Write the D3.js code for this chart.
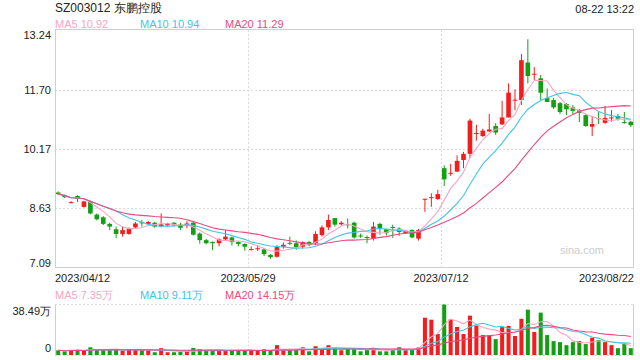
<!DOCTYPE html>
<html><head><meta charset="utf-8">
<script src="https://cdn.jsdelivr.net/npm/d3@7/dist/d3.min.js"></script>
<style>
html,body{margin:0;padding:0;background:#fff;}
svg{display:block;font-family:"Liberation Sans",Arial,sans-serif;}
</style></head>
<body>
<svg id="c" width="640" height="360"></svg>
<script>
const title = "SZ003012 东鹏控股";
const timeStamp = "08-22 13:22";
const xTickLabels = ["2023/04/12","2023/05/29","2023/07/12","2023/08/22"];
const priceTicks = [13.24, 11.70, 10.17, 8.63, 7.09];
const volTickLabels = ["38.49万","0"];
const volMax = 38.49;
const priceLegend = ["MA5 10.92","MA10 10.94","MA20 11.29"];
const volLegend = ["MA5 7.35万","MA10 9.11万","MA20 14.15万"];

const opens = [9.04,8.97,8.77,8.95,8.67,8.81,8.47,8.40,8.23,8.09,
7.97,7.97,8.14,8.27,8.23,8.26,8.17,8.19,8.26,8.21,
8.18,8.26,7.98,7.81,7.76,7.73,7.83,7.88,7.76,7.71,
7.56,7.58,7.57,7.43,7.38,7.64,7.74,7.73,7.64,7.76,
7.73,7.94,8.14,8.38,8.22,8.22,8.26,7.93,7.89,7.85,
8.23,8.09,8.15,8.11,7.99,8.07,7.85,8.87,8.90,8.87,
9.67,9.53,9.58,9.88,10.04,10.56,10.50,10.62,10.76,10.80,
10.98,11.42,11.43,12.40,12.09,11.99,11.48,11.43,11.35,11.33,
11.24,11.17,11.04,10.74,10.96,10.84,10.97,11.02,10.86,10.87];
const highs = [9.07,8.99,8.82,8.97,8.83,8.83,8.50,8.43,8.26,8.16,
8.16,8.14,8.28,8.33,8.30,8.28,8.50,8.26,8.28,8.26,
8.30,8.29,8.01,7.84,7.78,7.86,8.07,7.90,7.78,7.73,
7.65,7.68,7.60,7.45,7.68,7.75,7.90,7.80,7.78,7.79,
8.04,8.19,8.47,8.38,8.30,8.37,8.29,7.98,7.93,8.28,
8.26,8.11,8.21,8.14,8.07,8.09,8.10,8.88,9.02,9.11,
9.74,9.78,10.00,10.09,10.95,10.79,10.69,11.07,10.83,11.41,
11.86,11.71,12.62,13.00,12.28,12.08,11.73,11.48,11.38,11.35,
11.30,11.20,11.07,11.02,11.13,11.28,11.17,11.07,11.12,10.89];
const lows = [8.97,8.90,8.76,8.79,8.65,8.48,8.32,8.20,8.07,7.86,
7.90,7.95,8.12,8.16,8.21,8.13,8.14,8.17,8.17,8.07,
8.12,7.93,7.72,7.70,7.55,7.65,7.81,7.67,7.65,7.54,
7.54,7.53,7.40,7.33,7.36,7.59,7.68,7.56,7.59,7.65,
7.68,7.90,8.07,8.16,8.19,8.11,7.85,7.87,7.73,7.80,
7.95,7.93,7.87,7.92,7.97,7.86,7.80,8.54,8.67,8.85,
9.21,9.47,9.58,9.67,9.93,10.38,10.48,10.60,10.53,10.79,
10.98,11.17,11.30,11.86,11.95,11.43,11.38,11.20,11.07,11.04,
11.07,10.86,10.74,10.50,10.81,10.82,10.87,10.90,10.82,10.73];
const closes = [9.00,8.92,8.79,8.88,8.81,8.50,8.35,8.23,8.16,7.97,
8.07,8.11,8.24,8.26,8.28,8.16,8.22,8.24,8.19,8.13,
8.24,7.95,7.81,7.73,7.73,7.83,7.90,7.76,7.71,7.64,
7.58,7.60,7.45,7.37,7.63,7.69,7.73,7.63,7.76,7.68,
7.97,8.14,8.33,8.21,8.26,8.21,7.88,7.92,7.88,8.16,
8.11,7.99,8.14,8.02,8.05,7.88,8.07,8.88,8.92,9.00,
9.38,9.55,9.86,10.04,10.90,10.58,10.64,10.67,10.59,10.98,
11.62,11.44,12.46,12.05,12.11,11.62,11.38,11.24,11.12,11.19,
11.15,11.10,10.76,10.81,10.95,10.97,10.98,10.95,10.85,10.78];
const volumes = [3.6,2.8,3.9,3.9,3.1,5.9,4.1,4.1,4.1,4.4,
3.1,4.1,4.1,3.9,3.6,2.1,5.2,2.1,2.1,2.3,
2.8,5.4,4.4,3.1,3.6,4.1,3.4,3.6,3.4,3.1,
3.6,3.4,4.4,3.1,7.5,3.6,3.9,4.4,5.9,2.8,
6.7,5.4,7.5,5.4,3.6,4.9,4.4,2.8,4.1,5.4,
2.8,2.8,3.9,5.9,3.9,4.4,5.7,28.4,26.9,16.0,
38.49,27.1,21.4,16.0,30.0,22.5,15.2,15.0,12.1,21.2,
22.2,14.5,27.6,34.6,17.6,32.3,15.2,10.6,9.8,7.5,
9.8,10.6,8.3,13.2,11.4,9.8,7.5,5.2,8.8,5.2];

const RED = "#f41c1c", GREEN = "#12a012";
const MA_COLORS = ["#f7a5c3", "#3fc5e6", "#ec4a82"];
const MA_PERIODS = [5, 10, 20];

function movingAvg(arr, n) {
  return arr.map((_, i) => {
    const s = arr.slice(Math.max(0, i - n + 1), i + 1);
    return d3.mean(s);
  });
}

const svg = d3.select("#c");
const L = 55, R = 634, T = 30, B = 268, VT = 304.5, VB = 355;
const N = closes.length;
const x = d3.scaleBand().domain(d3.range(N)).range([L, R]).padding(0);
const cx = i => x(i) + x.bandwidth() / 2;
const bw = x.bandwidth() * 0.72;
const y = d3.scaleLinear().domain([7.09, 13.24]).range([B, T]);
const yv = d3.scaleLinear().domain([0, volMax]).range([VB, VT]);
const xg = d3.scaleLinear().domain([0, 3]).range([L, R]);

const gridC = "#dcdcdc", borderC = "#cfcfcf";

// main grid
svg.append("g").selectAll("line").data(priceTicks.slice(1, -1)).join("line")
  .attr("x1", L).attr("x2", R).attr("y1", d => Math.round(y(d)) + 0.5).attr("y2", d => Math.round(y(d)) + 0.5)
  .attr("stroke", gridC).attr("stroke-dasharray", "2,2");
[1, 2].forEach(k => {
  svg.append("line").attr("x1", Math.round(xg(k)) + 0.5).attr("x2", Math.round(xg(k)) + 0.5)
    .attr("y1", T).attr("y2", B).attr("stroke", gridC).attr("stroke-dasharray", "2,2");
  svg.append("line").attr("x1", Math.round(xg(k)) + 0.5).attr("x2", Math.round(xg(k)) + 0.5)
    .attr("y1", VT).attr("y2", VB).attr("stroke", gridC).attr("stroke-dasharray", "2,2");
});
// main border
svg.append("rect").attr("x", L + 0.5).attr("y", T - 0.5).attr("width", R - L - 1).attr("height", B - T)
  .attr("fill", "none").attr("stroke", borderC);
// volume frame
svg.append("line").attr("x1", L + 0.5).attr("x2", L + 0.5).attr("y1", VT).attr("y2", VB).attr("stroke", borderC);
svg.append("line").attr("x1", R - 0.5).attr("x2", R - 0.5).attr("y1", VT).attr("y2", VB).attr("stroke", borderC);
svg.append("line").attr("x1", L).attr("x2", R).attr("y1", VT).attr("y2", VT).attr("stroke", gridC).attr("stroke-dasharray", "2,2");
svg.append("line").attr("x1", L).attr("x2", R).attr("y1", VB + 0.5).attr("y2", VB + 0.5).attr("stroke", gridC).attr("stroke-dasharray", "2,2");

// watermark
svg.append("text").attr("x", 604).attr("y", 254).attr("text-anchor", "end")
  .attr("font-size", 11).attr("fill", "#cccccc").text("sina.com");

// candles
const data = d3.range(N).map(i => ({i, o: opens[i], h: highs[i], l: lows[i], c: closes[i], v: volumes[i]}));
const col = d => d.c >= d.o ? RED : GREEN;
const cg = svg.append("g");
cg.selectAll("line.w").data(data).join("line")
  .attr("x1", d => cx(d.i)).attr("x2", d => cx(d.i))
  .attr("y1", d => y(d.h)).attr("y2", d => y(d.l))
  .attr("stroke", col).attr("stroke-width", 1);
cg.selectAll("rect.b").data(data).join("rect")
  .attr("x", d => cx(d.i) - bw / 2).attr("width", bw)
  .attr("y", d => y(Math.max(d.o, d.c)))
  .attr("height", d => Math.max(1, Math.abs(y(d.o) - y(d.c))))
  .attr("fill", col);

// price MA lines
MA_PERIODS.forEach((p, k) => {
  const ma = movingAvg(closes, p);
  svg.append("path").datum(ma)
    .attr("d", d3.line().x((d, i) => cx(i)).y(d => y(d)))
    .attr("fill", "none").attr("stroke", MA_COLORS[k]).attr("stroke-width", 1.1);
});

// volume bars
svg.append("g").selectAll("rect").data(data).join("rect")
  .attr("x", d => cx(d.i) - bw / 2 + 0.3).attr("width", bw - 0.6)
  .attr("y", d => yv(d.v)).attr("height", d => VB - yv(d.v))
  .attr("fill", col);
MA_PERIODS.forEach((p, k) => {
  const ma = movingAvg(volumes, p);
  svg.append("path").datum(ma)
    .attr("d", d3.line().x((d, i) => cx(i)).y(d => yv(d)))
    .attr("fill", "none").attr("stroke", MA_COLORS[k]).attr("stroke-width", 1.1);
});

// texts
const txt = "#222";
svg.append("text").attr("x", L).attr("y", 12).attr("font-size", 12).attr("fill", txt).text(title);
svg.append("text").attr("x", R).attr("y", 13).attr("font-size", 11).attr("text-anchor", "end").attr("fill", txt).text(timeStamp);
const legX = [L, 140, 225];
priceLegend.forEach((t, k) => svg.append("text").attr("x", legX[k]).attr("y", 27.5)
  .attr("font-size", 11).attr("fill", MA_COLORS[k]).text(t));
volLegend.forEach((t, k) => svg.append("text").attr("x", legX[k]).attr("y", 298.5)
  .attr("font-size", 11).attr("fill", MA_COLORS[k]).text(t));

priceTicks.forEach((t, k) => {
  let yy = y(t) + 4;
  if (k === 0) yy = y(t) + 9;
  if (k === priceTicks.length - 1) yy = y(t) - 1;
  svg.append("text").attr("x", 51).attr("y", yy).attr("text-anchor", "end")
    .attr("font-size", 11).attr("fill", txt).text(t.toFixed(2));
});
svg.append("text").attr("x", 51).attr("y", yv(volMax) + 10.5).attr("text-anchor", "end")
  .attr("font-size", 11).attr("fill", txt).text(volTickLabels[0]);
svg.append("text").attr("x", 51).attr("y", yv(0) - 3).attr("text-anchor", "end")
  .attr("font-size", 11).attr("fill", txt).text(volTickLabels[1]);

xTickLabels.forEach((t, k) => {
  const anchor = k === 0 ? "start" : (k === xTickLabels.length - 1 ? "end" : "middle");
  svg.append("text").attr("x", xg(k)).attr("y", 281.5).attr("text-anchor", anchor)
    .attr("font-size", 11).attr("fill", txt).text(t);
});
</script>
</body></html>
